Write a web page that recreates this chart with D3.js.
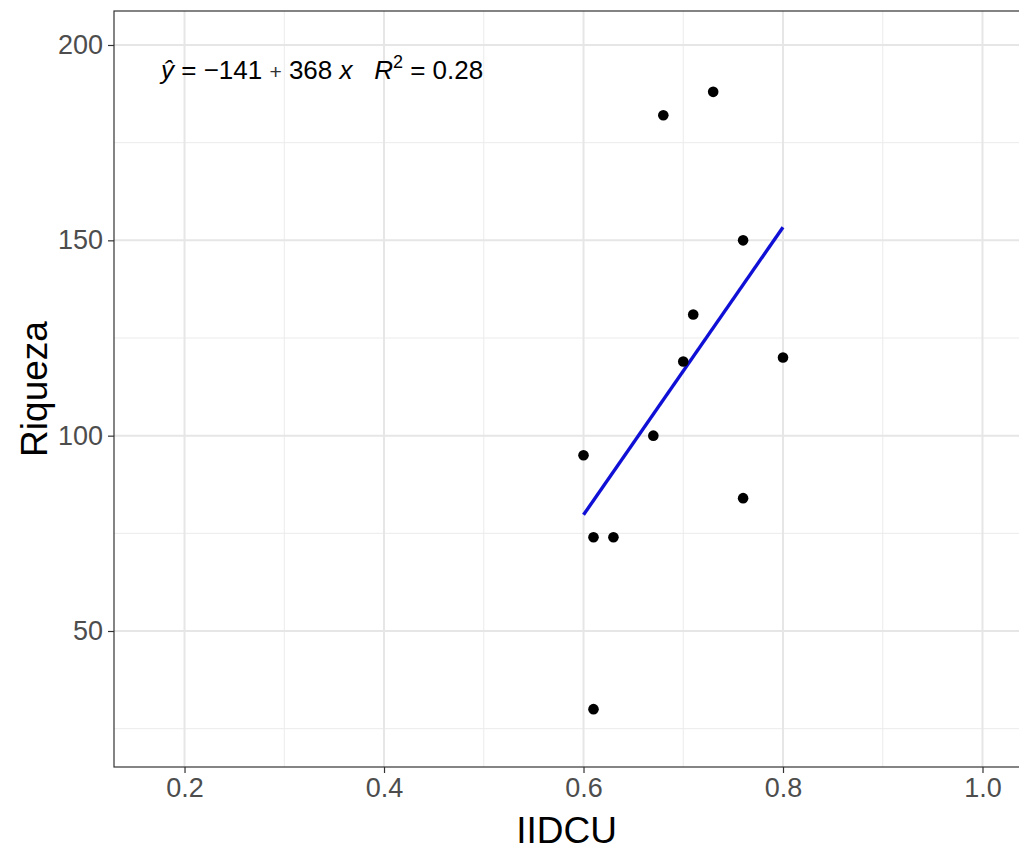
<!DOCTYPE html>
<html>
<head>
<meta charset="utf-8">
<script src="https://cdn.jsdelivr.net/npm/d3@7"></script>
<style>
  body { margin: 0; background: #fff; }
  svg text { font-family: "Liberation Sans", Arial, sans-serif; }
</style>
</head>
<body>
<div id="chart"></div>
<script>
// IIDCU vs Riqueza
var iidcu   = [0.68, 0.73, 0.76, 0.71, 0.80, 0.70, 0.67, 0.60, 0.76, 0.61, 0.63, 0.61];
var riqueza = [182, 188, 150, 131, 120, 119, 100, 95, 84, 74, 74, 30];

var xTicks = [0.2, 0.4, 0.6, 0.8, 1.0];
var xMinor = [0.3, 0.5, 0.7, 0.9];
var yTicks = [50, 100, 150, 200];
var yMinor = [25, 75, 125, 175];

var xLimits = [0.1293, 1.0386];
var yLimits = [15.19, 208.70];

var W = 1019, H = 850;
var panel = { left: 114, top: 11, right: 1021, bottom: 767 };

var svg = d3.select("#chart").append("svg")
  .attr("width", W)
  .attr("height", H);

var x = d3.scaleLinear().domain(xLimits).range([panel.left, panel.right]);
var y = d3.scaleLinear().domain(yLimits).range([panel.bottom, panel.top]);

var grid = svg.append("g");

// minor grid
grid.selectAll(".xminor").data(xMinor).enter().append("line")
  .attr("x1", d => x(d)).attr("x2", d => x(d))
  .attr("y1", panel.top).attr("y2", panel.bottom)
  .attr("stroke", "#ebebeb").attr("stroke-width", 1);
grid.selectAll(".yminor").data(yMinor).enter().append("line")
  .attr("y1", d => y(d)).attr("y2", d => y(d))
  .attr("x1", panel.left).attr("x2", panel.right)
  .attr("stroke", "#ebebeb").attr("stroke-width", 1);

// major grid
grid.selectAll(".xmajor").data(xTicks).enter().append("line")
  .attr("x1", d => x(d)).attr("x2", d => x(d))
  .attr("y1", panel.top).attr("y2", panel.bottom)
  .attr("stroke", "#e6e6e6").attr("stroke-width", 2);
grid.selectAll(".ymajor").data(yTicks).enter().append("line")
  .attr("y1", d => y(d)).attr("y2", d => y(d))
  .attr("x1", panel.left).attr("x2", panel.right)
  .attr("stroke", "#e6e6e6").attr("stroke-width", 2);

// regression line (least squares from the data)
var mx = d3.mean(iidcu), my = d3.mean(riqueza);
var sxy = d3.sum(iidcu, (v, i) => (v - mx) * (riqueza[i] - my));
var sxx = d3.sum(iidcu, v => (v - mx) * (v - mx));
var slope = sxy / sxx, intercept = my - slope * mx;
var xr = d3.extent(iidcu);

svg.append("line")
  .attr("x1", x(xr[0])).attr("y1", y(intercept + slope * xr[0]))
  .attr("x2", x(xr[1])).attr("y2", y(intercept + slope * xr[1]))
  .attr("stroke", "#0f0fd6").attr("stroke-width", 3.4);

// points
svg.selectAll(".pt").data(iidcu).enter().append("circle")
  .attr("cx", d => x(d))
  .attr("cy", (d, i) => y(riqueza[i]))
  .attr("r", 5.3)
  .attr("fill", "#000");

// panel border
svg.append("rect")
  .attr("x", panel.left).attr("y", panel.top)
  .attr("width", panel.right - panel.left).attr("height", panel.bottom - panel.top)
  .attr("fill", "none").attr("stroke", "#333").attr("stroke-width", 1.2);

// axes
var xAxis = svg.append("g")
  .attr("transform", "translate(0," + panel.bottom + ")")
  .call(d3.axisBottom(x).tickValues(xTicks).tickFormat(d3.format(".1f")).tickSize(6).tickPadding(5));
var yAxis = svg.append("g")
  .attr("transform", "translate(" + panel.left + ",0)")
  .call(d3.axisLeft(y).tickValues(yTicks).tickSize(6).tickPadding(5));

[xAxis, yAxis].forEach(function (a) {
  a.select(".domain").remove();
  a.selectAll(".tick line").attr("stroke", "#333").attr("stroke-width", 1.2);
  a.selectAll(".tick text")
    .attr("fill", "#4d4d4d")
    .style("font-size", "27px")
    .style("font-family", "Liberation Sans, Arial, sans-serif");
});

// axis titles
svg.append("text")
  .attr("x", (panel.left + panel.right) / 2 - 1)
  .attr("y", 843)
  .attr("text-anchor", "middle")
  .style("font-size", "37px")
  .attr("fill", "#000")
  .text("IIDCU");

svg.append("text")
  .attr("transform", "translate(47," + ((panel.top + panel.bottom) / 2) + ") rotate(-90)")
  .attr("text-anchor", "middle")
  .style("font-size", "37px")
  .attr("fill", "#000")
  .text("Riqueza");

// equation label
var eq = svg.append("text")
  .attr("x", 161).attr("y", 79)
  .style("font-size", "26px")
  .style("white-space", "pre")
  .attr("fill", "#000");
eq.append("tspan").style("font-style", "italic").text("\u0177");
eq.append("tspan").text(" = \u2212141 ");
eq.append("tspan").style("font-size", "21px").attr("fill", "#333").text("+");
eq.append("tspan").text(" 368 ");
eq.append("tspan").style("font-style", "italic").text("x");
eq.append("tspan").text("   ");
eq.append("tspan").style("font-style", "italic").text("R");
eq.append("tspan").attr("dy", -11).style("font-size", "18px").text("2");
eq.append("tspan").attr("dy", 11).text(" = 0.28");
</script>
</body>
</html>
